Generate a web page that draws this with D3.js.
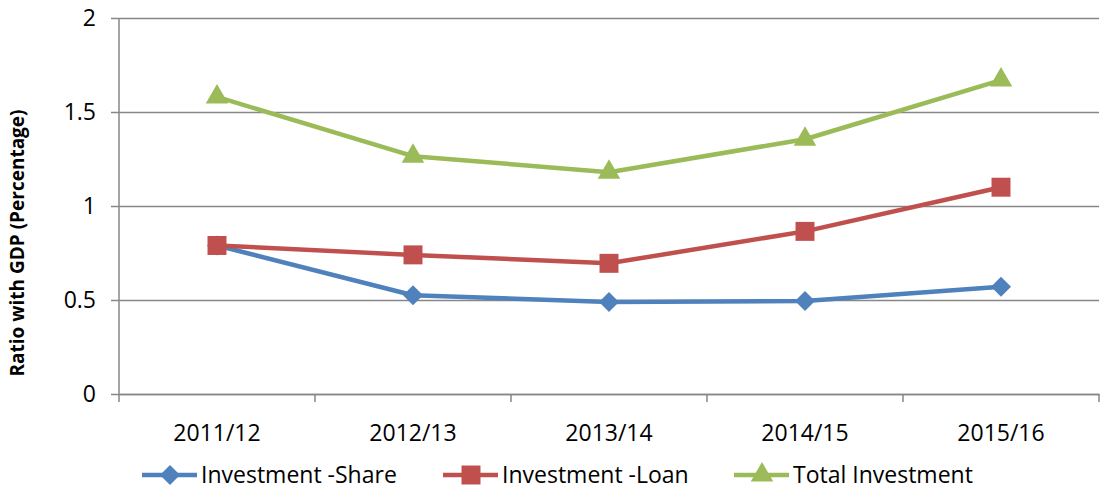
<!DOCTYPE html>
<html>
<head>
<meta charset="utf-8">
<script src="https://cdn.jsdelivr.net/npm/d3@7"></script>
<style>
  body { margin: 0; background: #fff; }
  svg text { font-family: "Open Sans", "Liberation Sans", sans-serif; fill: #000; }
</style>
</head>
<body>
<div class="chart"></div>
<script>
const categories = ["2011/12", "2012/13", "2013/14", "2014/15", "2015/16"];
const shareValues = [0.79, 0.525, 0.49, 0.495, 0.57];
const loanValues = [0.79, 0.74, 0.695, 0.865, 1.10];
const totalValues = [1.58, 1.265, 1.18, 1.355, 1.67];
const yTicks = [0, 0.5, 1, 1.5, 2];
const seriesNames = ["Investment -Share", "Investment -Loan", "Total Investment"];

const series = [
  { name: seriesNames[0], values: shareValues, color: "#4F81BD", type: "diamond" },
  { name: seriesNames[1], values: loanValues, color: "#C0504D", type: "square" },
  { name: seriesNames[2], values: totalValues, color: "#9BBB59", type: "triangle" }
];

// marker shapes
function marker(type) {
  if (type === "triangle") return d3.symbol().type(d3.symbolTriangle).size(220)();
  if (type === "square") return d3.symbol().type(d3.symbolSquare).size(360)();
  return d3.symbol().type(d3.symbolSquare).size(200)();
}
function rot(type) { return type === "diamond" ? " rotate(45)" : ""; }

let svgWidth = 1102, svgHeight = 490;
let margin = { top: 18, right: 3, bottom: 96, left: 119 };
let width = svgWidth - margin.left - margin.right;
let height = svgHeight - margin.top - margin.bottom;

let svg = d3.select(".chart").append("svg")
  .attr("width", svgWidth)
  .attr("height", svgHeight);
let g = svg.append("g")
  .attr("transform", "translate(" + margin.left + "," + margin.top + ")");

let x = d3.scaleBand().domain(categories).range([0, 980]);
let y = d3.scaleLinear().domain([0, 2]).range([height, 0]);

// gridlines + y axis
let yAxis = g.append("g")
  .call(d3.axisLeft(y).tickValues(yTicks).tickSize(-980).tickPadding(23).tickFormat(d => d));
yAxis.select(".domain").remove();
yAxis.selectAll(".tick line").attr("stroke", "#878787").attr("stroke-width", 1.5).attr("x1", -8);
yAxis.selectAll(".tick text").attr("font-size", 23);
g.append("line").attr("x1", 0).attr("x2", 0).attr("y1", 0).attr("y2", height)
  .attr("stroke", "#878787").attr("stroke-width", 1.5);

// x axis
let xAxis = g.append("g").attr("transform", "translate(0," + height + ")")
  .call(d3.axisBottom(x).tickSize(0).tickPadding(31));
xAxis.select(".domain").attr("stroke", "#878787").attr("stroke-width", 1.5);
xAxis.selectAll(".tick text").attr("font-size", 23);
xAxis.selectAll(".sep").data(d3.range(categories.length + 1)).enter().append("line")
  .attr("x1", i => i * x.bandwidth()).attr("x2", i => i * x.bandwidth())
  .attr("y1", 0).attr("y2", 8).attr("stroke", "#878787").attr("stroke-width", 1.5);

// y title
svg.append("text")
  .attr("transform", "translate(24,243) rotate(-90)")
  .attr("text-anchor", "middle")
  .attr("font-size", 19).attr("font-weight", "bold")
  .text("Ratio with GDP (Percentage)");

// lines
let line = d3.line()
  .x((d, i) => x(categories[i]) + x.bandwidth() / 2)
  .y(d => y(d));

series.forEach(function (s) {
  g.append("path").datum(s.values)
    .attr("fill", "none").attr("stroke", s.color).attr("stroke-width", 4.5)
    .attr("stroke-linejoin", "round")
    .attr("d", line);
});
series.forEach(function (s) {
  g.selectAll(null).data(s.values).enter().append("path")
    .attr("d", marker(s.type))
    .attr("transform", (d, i) => "translate(" + (x(categories[i]) + x.bandwidth() / 2) + "," + y(d) + ")" + rot(s.type))
    .attr("fill", s.color);
});

// legend
let legendX = [142, 443, 734];
let legend = svg.selectAll(".legend").data(series).enter().append("g")
  .attr("transform", (d, i) => "translate(" + legendX[i] + ",475)");
legend.append("line").attr("x1", 0).attr("x2", 55)
  .attr("stroke", d => d.color).attr("stroke-width", 4.5);
legend.append("path")
  .attr("d", d => marker(d.type))
  .attr("transform", d => "translate(28,0)" + rot(d.type))
  .attr("fill", d => d.color);
legend.append("text").attr("x", 59).attr("y", 8)
  .attr("font-size", 23)
  .text(d => d.name);
</script>
</body>
</html>
